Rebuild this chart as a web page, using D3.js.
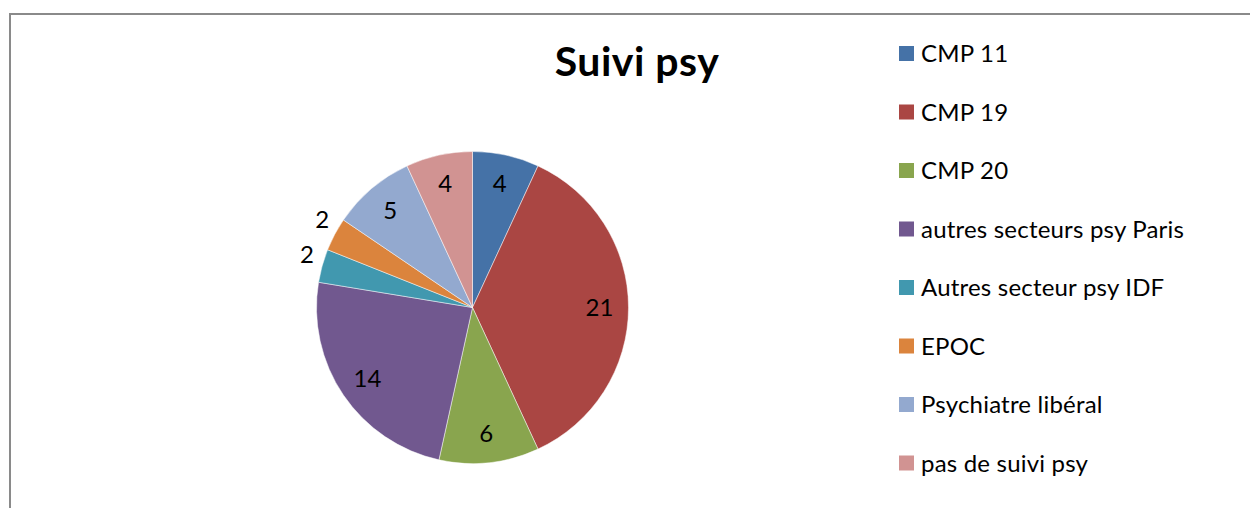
<!DOCTYPE html>
<html>
<head>
<meta charset="utf-8">
<script src="https://cdn.jsdelivr.net/npm/d3@7"></script>
<style>
  body { margin: 0; background: #fff; }
  svg { display: block; }
  text { font-family: Lato, "Noto Sans", sans-serif; fill: #000; }
</style>
</head>
<body>
<svg id="chart" width="1250" height="508"></svg>
<script>
// data
const categories = ["CMP 11", "CMP 19", "CMP 20", "autres secteurs psy Paris",
  "Autres secteur psy IDF", "EPOC", "Psychiatre libéral", "pas de suivi psy"];
const values = [4, 21, 6, 14, 2, 2, 5, 4];
const colors = ["#4572A7", "#AA4643", "#89A54E", "#71588F",
  "#4198AF", "#DB843D", "#93A9CF", "#D19392"];
const title = "Suivi psy";

const svg = d3.select("#chart");

// chart frame (runs off the right and bottom of the picture)
svg.append("rect")
  .attr("x", 10).attr("y", 14)
  .attr("width", 1260).attr("height", 520)
  .attr("fill", "none")
  .attr("stroke", "#8a8a8a")
  .attr("stroke-width", 2);

svg.append("text")
  .attr("x", 637).attr("y", 76)
  .attr("text-anchor", "middle")
  .style("font-weight", "bold")
  .style("font-size", "41px")
  .style("letter-spacing", "0.5px")
  .text(title);

// pie
const cx = 472.5, cy = 307.5, radius = 156;
const color = d3.scaleOrdinal().domain(categories).range(colors);
const data = categories.map((c, i) => ({ cat: c, val: values[i] }));

const pie = d3.pie().sort(null).value(d => d.val);
const arcs = pie(data);
const arc = d3.arc().innerRadius(0).outerRadius(radius);
const inLabel = d3.arc().innerRadius(127).outerRadius(127);

const g = svg.append("g").attr("transform", `translate(${cx},${cy})`);

g.selectAll("path")
  .data(arcs)
  .enter().append("path")
  .attr("d", arc)
  .attr("fill", d => color(d.data.cat))
  .attr("stroke", "rgba(255,255,255,0.6)")
  .attr("stroke-width", 0.8);

// small slices get their label outside the pie, like excel's best fit
const total = d3.sum(values);
g.selectAll("text.lbl")
  .data(arcs)
  .enter().append("text")
  .attr("class", "lbl")
  .attr("text-anchor", "middle")
  .attr("dy", "0.35em")
  .style("font-size", "24px")
  .attr("transform", d => {
    if (d.data.val / total < 0.05) {
      const a = (d.startAngle + d.endAngle) / 2 + 0.04;
      const r = 174;
      return `translate(${r * Math.sin(a)},${-r * Math.cos(a)})`;
    }
    return `translate(${inLabel.centroid(d)})`;
  })
  .text(d => d.data.val);

// legend
const ly = d3.scalePoint().domain(categories).range([53.5, 463]);
const leg = svg.append("g");
const item = leg.selectAll("g")
  .data(categories)
  .enter().append("g")
  .attr("transform", d => `translate(899,${ly(d)})`);

item.append("rect")
  .attr("x", 0).attr("y", -7.5)
  .attr("width", 15).attr("height", 15)
  .attr("fill", d => color(d));

item.append("text")
  .attr("x", 22).attr("y", 8.5)
  .style("font-size", "24px")
  .style("letter-spacing", "0.2px")
  .text(d => d);
</script>
</body>
</html>
